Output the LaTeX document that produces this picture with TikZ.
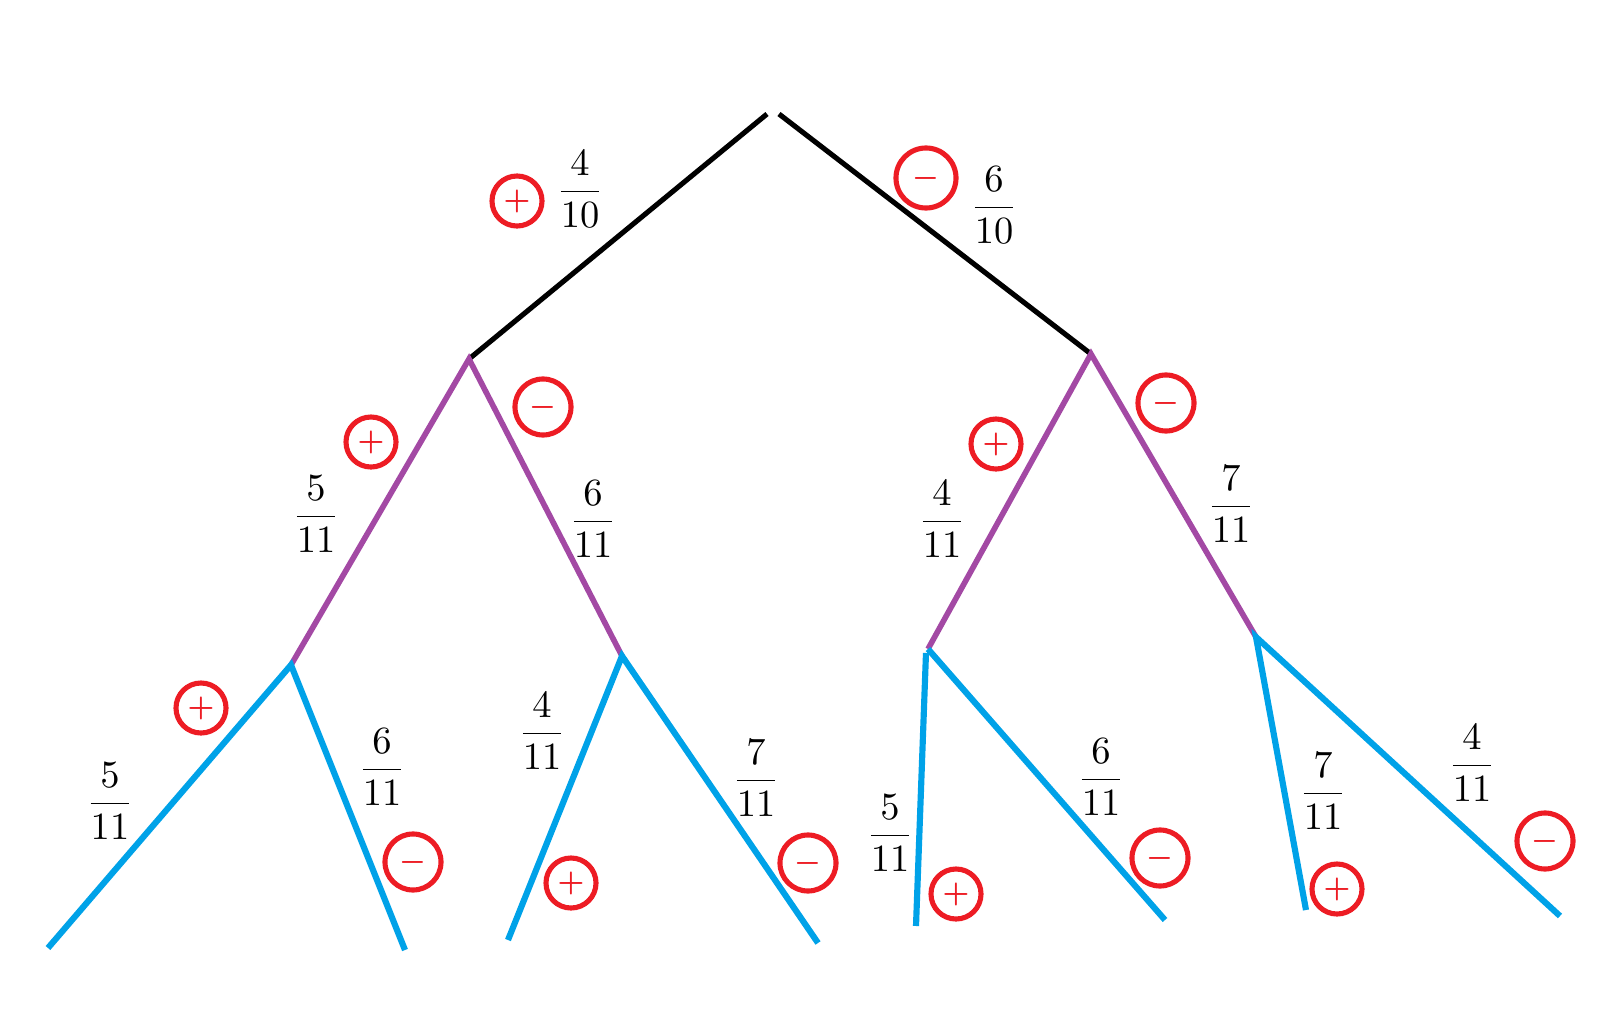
\documentclass[tikz,border=0pt]{standalone}
\usepackage{amsmath}
\usepackage{tikz}
\usetikzlibrary{positioning, calc}
\definecolor{paintred}{RGB}{237,28,36}
\definecolor{paintpurple}{RGB}{163,73,164}
\definecolor{paintblue}{RGB}{0,162,232}
\tikzset{
  lvlone/.style={draw=black, line width=1.45pt},
  lvltwo/.style={draw=paintpurple, line width=1.6pt},
  lvlthree/.style={draw=paintblue, line width=1.75pt},
  sign/.style={circle, draw=paintred, line width=1.45pt, text=paintred,
    minimum size=0.5cm, inner sep=0pt, font=\footnotesize\boldmath},
  prob/.style={inner sep=0pt, font=\fontsize{10.5}{12}\selectfont},
}

\begin{document}
\begin{tikzpicture}[x=0.01cm, y=-0.01cm]
  \useasboundingbox (0,0) rectangle (1599,1024);

  % Tree points
  \coordinate (rootl) at (767,114);
  \coordinate (rootr) at (779,114);
  \coordinate (a) at (469,359);
  \coordinate (b) at (1091,354);
  \coordinate (aa) at (291,665);
  \coordinate (ab) at (622,656);
  \coordinate (ba) at (928,649);
  \coordinate (ba') at (926,653);
  \coordinate (bb) at (1256,637);

  % Leaves
  \coordinate (aa1) at (48,948);
  \coordinate (aa2) at (405,950);
  \coordinate (ab1) at (508,940);
  \coordinate (ab2) at (818,943);
  \coordinate (ba1) at (916,926);
  \coordinate (ba2) at (1165,920);
  \coordinate (bb1) at (1306,910);
  \coordinate (bb2) at (1560,916);

  % Branches
  \draw[lvlone] (rootl) -- (a);
  \draw[lvlone] (rootr) -- (b);
  \draw[lvltwo] (aa) -- (a) -- (ab);
  \draw[lvltwo] (ba) -- (b) -- (bb);
  \draw[lvlthree] (aa1) -- (aa) -- (aa2);
  \draw[lvlthree] (ab1) -- (ab) -- (ab2);
  \draw[lvlthree] (ba1) -- (ba');
  \draw[lvlthree] (ba) -- (ba2);
  \draw[lvlthree] (bb1) -- (bb) -- (bb2);

  % First draw
  \node[sign] (s1) at (517,201) {$+$};
  \node[prob] (p1) at (580,189) {$\dfrac{4}{10}$};
  \node[sign, minimum size=0.6cm] (s2) at (926,178) {$-$};
  \node[prob] (p2) at (994,205) {$\dfrac{6}{10}$};

  % Second draw
  \node[sign] (s3) at (371,442) {$+$};
  \node[prob] (p3) at (316,514) {$\dfrac{5}{11}$};
  \node[sign, minimum size=0.56cm] (s4) at (543,407) {$-$};
  \node[prob] (p4) at (593,519) {$\dfrac{6}{11}$};
  \node[sign] (s5) at (996,444) {$+$};
  \node[prob] (p5) at (942,519) {$\dfrac{4}{11}$};
  \node[sign, minimum size=0.56cm] (s6) at (1166,403) {$-$};
  \node[prob] (p6) at (1231,504) {$\dfrac{7}{11}$};

  % Third draw
  \node[sign] (s7) at (201,708) {$+$};
  \node[prob] (p7) at (110,801) {$\dfrac{5}{11}$};
  \node[prob] (p8) at (382,767) {$\dfrac{6}{11}$};
  \node[sign, minimum size=0.56cm] (s8) at (413,862) {$-$};
  \node[prob] (p9) at (542,731) {$\dfrac{4}{11}$};
  \node[sign] (s9) at (571,883) {$+$};
  \node[prob] (p10) at (756,778) {$\dfrac{7}{11}$};
  \node[sign, minimum size=0.56cm] (s10) at (808,863) {$-$};
  \node[prob] (p11) at (890,833) {$\dfrac{5}{11}$};
  \node[sign] (s11) at (956,894) {$+$};
  \node[prob] (p12) at (1101,777) {$\dfrac{6}{11}$};
  \node[sign, minimum size=0.56cm] (s12) at (1160,858) {$-$};
  \node[prob] (p13) at (1323,791) {$\dfrac{7}{11}$};
  \node[sign] (s13) at (1337,889) {$+$};
  \node[prob] (p14) at (1472,763) {$\dfrac{4}{11}$};
  \node[sign, minimum size=0.56cm] (s14) at (1545,841) {$-$};
\end{tikzpicture}
\end{document}
